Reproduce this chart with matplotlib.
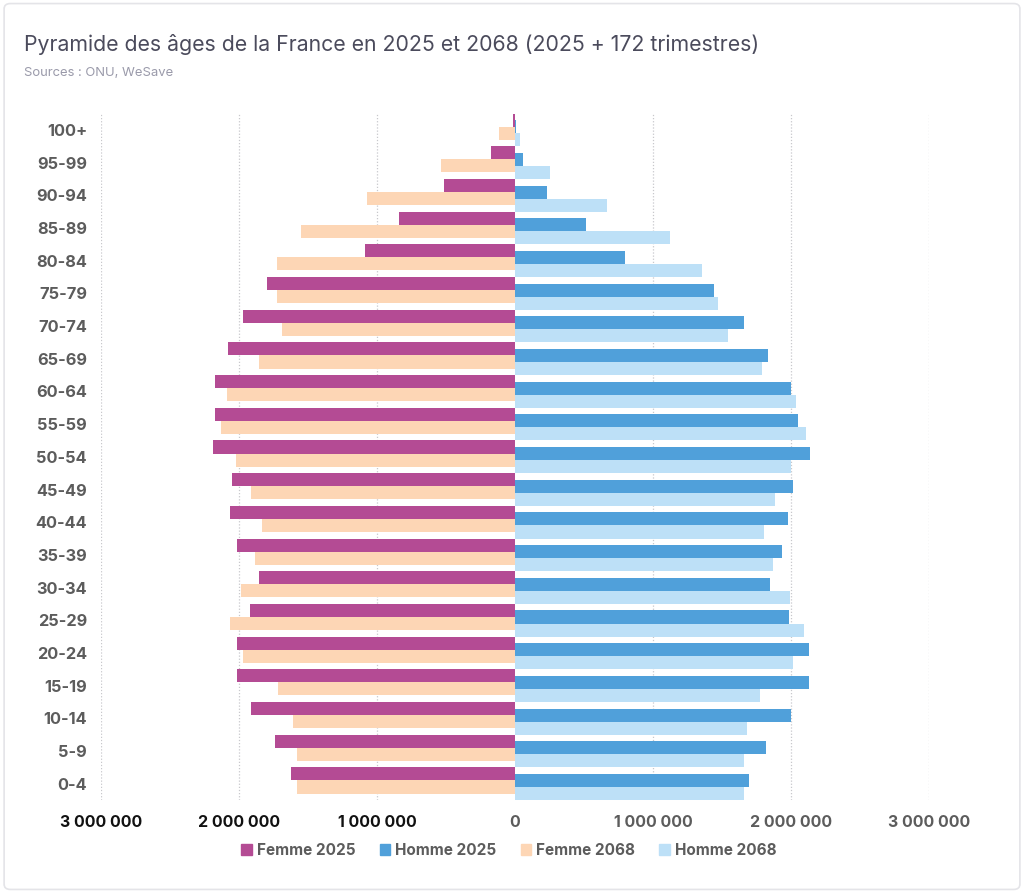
import matplotlib.pyplot as plt
from matplotlib.patches import FancyBboxPatch, Patch
import numpy as np

plt.rcParams['font.family'] = ['Inter', 'DejaVu Sans']

age_groups = ['0-4', '5-9', '10-14', '15-19', '20-24', '25-29', '30-34', '35-39',
              '40-44', '45-49', '50-54', '55-59', '60-64', '65-69', '70-74',
              '75-79', '80-84', '85-89', '90-94', '95-99', '100+']

# population in persons
femme_2025 = [1622000, 1737000, 1911000, 2017000, 2017000, 1920000, 1852000, 2017000,
              2064000, 2047000, 2191000, 2173000, 2173000, 2077000, 1970000,
              1797000, 1085000, 838000, 516000, 175000, 17000]
homme_2025 = [1693000, 1819000, 2002000, 2129000, 2129000, 1985000, 1849000, 1937000,
              1976000, 2014000, 2141000, 2053000, 2002000, 1837000, 1657000,
              1443000, 795000, 513000, 233000, 60000, 5000]
femme_2068 = [1581000, 1581000, 1610000, 1714000, 1970000, 2064000, 1988000, 1884000,
              1832000, 1911000, 2023000, 2132000, 2085000, 1853000, 1690000,
              1725000, 1725000, 1550000, 1072000, 538000, 116000]
homme_2068 = [1663000, 1657000, 1683000, 1778000, 2014000, 2091000, 1996000, 1869000,
              1808000, 1887000, 2002000, 2111000, 2040000, 1790000, 1541000,
              1472000, 1356000, 1125000, 670000, 253000, 35000]

tick_values = [-3000000, -2000000, -1000000, 0, 1000000, 2000000, 3000000]
tick_labels = ['3 000 000', '2 000 000', '1 000 000', '0', '1 000 000', '2 000 000', '3 000 000']

c_f25 = '#b44b94'
c_h25 = '#50a0da'
c_f68 = '#fdd6b5'
c_h68 = '#bde0f7'

fig = plt.figure(figsize=(10.24, 8.93), dpi=100)
fig.patches.append(FancyBboxPatch((0.004, 0.004), 0.992, 0.992, boxstyle='round,pad=0,rounding_size=0.006',
                                  transform=fig.transFigure, facecolor='white', edgecolor='#e4e4e8',
                                  linewidth=1.2, zorder=-1))

ax = fig.add_axes([0.0986, 0.1041, 0.8086, 0.7687])
y = np.arange(len(age_groups))
h = 0.4

ax.barh(y + 0.3, [-v for v in femme_2025], height=h, color=c_f25, zorder=3)
ax.barh(y + 0.1, homme_2025, height=h, color=c_h25, zorder=3)
ax.barh(y - 0.1, [-v for v in femme_2068], height=h, color=c_f68, zorder=3)
ax.barh(y - 0.3, homme_2068, height=h, color=c_h68, zorder=3)

ax.set_xlim(-3000000, 3000000)
ax.set_ylim(-0.5, 20.5)

for v in tick_values:
    if v != 0:
        ax.axvline(v, color='#c8c8cc', linestyle=(0, (1, 1.5)), linewidth=0.9, zorder=1)

ax.set_xticks(tick_values)
ax.set_xticklabels(tick_labels, fontsize=11.5, fontweight='bold')
for i, lab in enumerate(ax.get_xticklabels()):
    lab.set_color('#111111' if i < 3 else '#5c5c5c')
ax.set_yticks(y)
ax.set_yticklabels(age_groups, fontsize=11.8, fontweight='bold', color='#5c5c5c')
ax.tick_params(axis='both', length=0)
ax.tick_params(axis='x', pad=11)
ax.tick_params(axis='y', pad=10)
for s in ax.spines.values():
    s.set_visible(False)

fig.text(0.0234, 0.950, 'Pyramide des âges de la France en 2025 et 2068 (2025 + 172 trimestres)',
         fontsize=15.3, color='#4b4b5c', va='center', ha='left')
fig.text(0.0234, 0.918, 'Sources : ONU, WeSave', fontsize=9.4, color='#9a9aaa', va='center', ha='left')

handles = [Patch(color=c_f25), Patch(color=c_h25), Patch(color=c_f68), Patch(color=c_h68)]
leg = fig.legend(handles, ['Femme 2025', 'Homme 2025', 'Femme 2068', 'Homme 2068'],
                 loc='center', bbox_to_anchor=(0.497, 0.048), ncol=4, frameon=False,
                 handlelength=0.7, handleheight=0.7, handletextpad=0.3, columnspacing=1.6,
                 prop={'weight': 'bold', 'size': 11})
for t in leg.get_texts():
    t.set_color('#5c5c5c')

fig.savefig('out.png', dpi=100)
